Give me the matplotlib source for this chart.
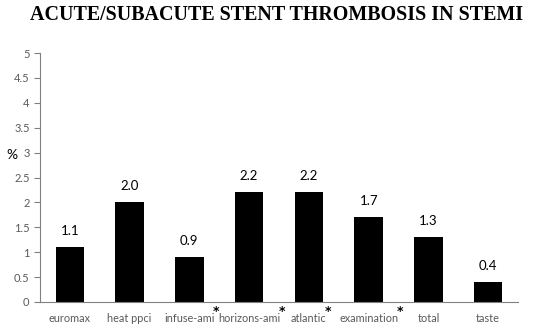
import matplotlib.pyplot as plt
import numpy as np

categories = ['euromax', 'heat ppci', 'infuse-ami', 'horizons-ami', 'atlantic', 'examination', 'total', 'taste']
starred = [False, False, True, True, True, True, False, False]
values = [1.1, 2.0, 0.9, 2.2, 2.2, 1.7, 1.3, 0.4]
yticks = [0, 0.5, 1, 1.5, 2, 2.5, 3, 3.5, 4, 4.5, 5]

fig = plt.figure(figsize=(5.5, 3.27), dpi=100)
ax = fig.add_axes([40 / 550, 25 / 327, 478 / 550, 249 / 327])

x = np.arange(len(categories))
ax.bar(x, values, width=0.48, color='black')
for xi, v in zip(x, values):
    ax.text(xi, v + 0.2, '%.1f' % v, ha='center', va='bottom', fontsize=9.5,
            family='Lato')

ax.set_xlim(-0.5, len(categories) - 0.5)
ax.set_ylim(0, 5)
ax.set_yticks(yticks)
ax.set_yticklabels(['%g' % t for t in yticks])
ax.set_xticks(x)
ax.set_xticklabels(categories)
ax.tick_params(axis='x', length=0, pad=8, labelsize=7.8, colors='#595959')
ax.tick_params(axis='y', length=4, direction='out', labelsize=8, colors='#595959', width=0.8)
ax.tick_params(axis='y', color='#808080')
for lab in ax.get_xticklabels() + ax.get_yticklabels():
    lab.set_family('Lato')
for s in ['top', 'right']:
    ax.spines[s].set_visible(False)
for s in ['left', 'bottom']:
    ax.spines[s].set_color('#808080')
    ax.spines[s].set_linewidth(0.8)

fig.text(0.012, 0.525, '%', fontsize=10, family='Lato', va='center')
fig.suptitle('ACUTE/SUBACUTE STENT THROMBOSIS IN STEMI', x=0.502, y=0.985,
             fontsize=14.4, fontweight='bold', family='Liberation Serif', va='top')

# asterisks after starred labels, placed from the drawn label extents
fig.canvas.draw()
W, H = fig.get_size_inches() * fig.dpi
for lab, s in zip(ax.get_xticklabels(), starred):
    if s:
        bb = lab.get_window_extent()
        fig.text((bb.x1 - 1.5) / W, (bb.y1 - 2) / H, '*', ha='left', va='baseline',
                 fontsize=9, fontweight='bold', color='black')

fig.savefig('out.png', dpi=100)
